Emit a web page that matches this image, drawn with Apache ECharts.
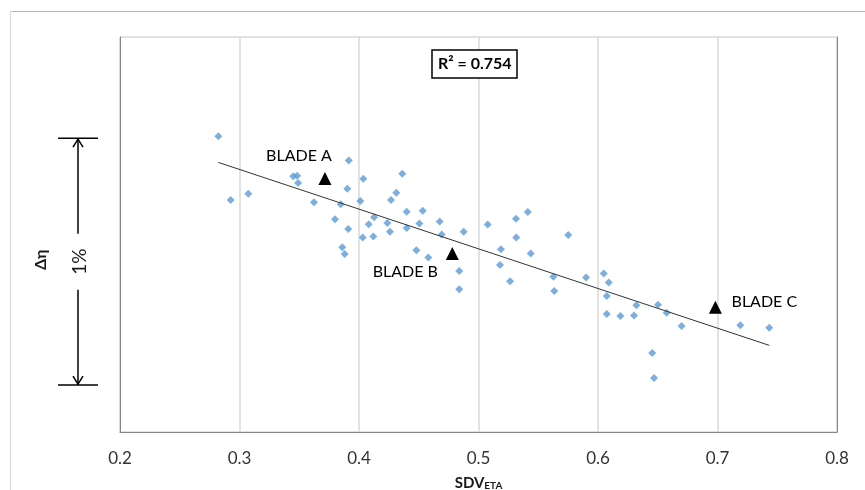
<!DOCTYPE html>
<html><head><meta charset="utf-8">
<script src="https://cdn.jsdelivr.net/npm/echarts@6/dist/echarts.min.js"></script>
<style>html,body{margin:0;padding:0;background:#fff}#c{width:865px;height:490px}</style>
</head><body><div id="c"></div>
<script>
// ---- data ----
const sdv = [0.2823,0.2926,0.3074,0.3450,0.3482,0.3490,0.3623,0.3847,0.3799,0.3910,
  0.3860,0.3880,0.3914,0.3902,0.4011,0.4036,0.4362,0.4312,0.4268,0.4399,
  0.4533,0.4126,0.4081,0.4237,0.4505,0.4675,0.4399,0.4031,0.4120,0.4259,
  0.4692,0.4876,0.4480,0.4580,0.4839,0.4839,0.5077,0.5314,0.5412,0.5316,
  0.5188,0.5437,0.5180,0.5264,0.5751,0.5626,0.5900,0.5634,0.6048,0.6090,
  0.6073,0.6321,0.6502,0.6575,0.6073,0.6187,0.6301,0.6700,0.7191,0.7433,
  0.6454,0.6469];
const deltaEta = [1.198,0.940,0.965,1.036,1.038,1.009,0.931,0.923,0.862,0.822,
  0.748,0.721,1.100,0.985,0.936,1.026,1.046,0.969,0.940,0.892,
  0.896,0.870,0.842,0.847,0.845,0.853,0.826,0.788,0.792,0.811,
  0.800,0.811,0.736,0.707,0.652,0.578,0.841,0.864,0.891,0.788,
  0.740,0.723,0.676,0.611,0.798,0.629,0.626,0.571,0.642,0.606,
  0.551,0.513,0.515,0.483,0.478,0.470,0.472,0.429,0.432,0.422,
  0.320,0.219];
const bladeNames = ['BLADE A','BLADE B','BLADE C'];
const bladeSdv = [0.3715,0.4781,0.6982];
const bladeEta = [1.027,0.723,0.505];
const trendSdv = [0.2823,0.7433];
const trendEta = [1.092,0.351];
const xTickValues = [0.2,0.3,0.4,0.5,0.6,0.7,0.8];
const rSquaredText = 'R² = 0.754';
const yAxisTitle = 'Δη';
const bracketRange = [0.19, 1.19]; // spans 1% of Δη
const bracketText = '1%';

// ---- chart ----
const FONT = 'Lato, "Noto Sans", sans-serif';
const bladeLabelOffsets = [[-26,-23],[-47,18],[49,-5]];
const chart = echarts.init(document.getElementById('c'), null, {renderer:'canvas'});
const option = {
  animation:false,
  backgroundColor:'#fff',
  textStyle:{fontFamily:FONT},
  title:{
    text:rSquaredText, left:432, top:50, padding:[6,6],
    borderColor:'#000', borderWidth:1.5, backgroundColor:'#fff',
    textStyle:{fontFamily:FONT, fontSize:16, fontWeight:'bold', color:'#000'}
  },
  grid:{left:120, right:28, top:37, bottom:58, show:true, borderColor:'#c4c4c4', borderWidth:1,
    containLabel:false, outerBoundsMode:'none'},
  xAxis:{
    type:'value', min:xTickValues[0], max:xTickValues[xTickValues.length-1], interval:0.1,
    axisLine:{show:true, onZero:false, lineStyle:{color:'#878787', width:1}},
    axisTick:{show:false},
    splitLine:{show:true, lineStyle:{color:'#d9d9d9', width:1.5}},
    axisLabel:{fontFamily:FONT, fontSize:17, color:'#333', margin:18,
      formatter:v=>v.toFixed(1)},
    name:'{a|SDV}{b|ETA}', nameLocation:'middle', nameGap:44,
    nameTextStyle:{rich:{
      a:{fontFamily:FONT, fontSize:15, fontWeight:'bold', color:'#1a1a1a'},
      b:{fontFamily:FONT, fontSize:10, fontWeight:'bold', color:'#1a1a1a', verticalAlign:'bottom', padding:[4,0,0,0]}
    }}
  },
  yAxis:[{
    type:'value', min:0, max:1.6,
    axisLine:{show:true, lineStyle:{color:'#878787', width:1}},
    axisTick:{show:false}, axisLabel:{show:false}, splitLine:{show:false}
  },{
    type:'value', min:0, max:1.6, position:'right',
    axisLine:{show:true, lineStyle:{color:'#878787', width:1}},
    axisTick:{show:false}, axisLabel:{show:false}, splitLine:{show:false}
  }],
  series:[{
    type:'scatter', name:'data', symbol:'diamond', symbolSize:8,
    itemStyle:{color:'#5B9BD5'},
    data:sdv.map((x,i)=>[x,deltaEta[i]]), z:2
  },{
    type:'line', name:'trend', data:trendSdv.map((x,i)=>[x,trendEta[i]]),
    showSymbol:false, symbol:'none', lineStyle:{color:'#333', width:1}, z:3, silent:true
  },{
    type:'scatter', name:'blades', symbol:'triangle', symbolSize:13,
    itemStyle:{color:'#000', opacity:1}, z:4,
    data:bladeNames.map((n,i)=>({name:n, value:[bladeSdv[i],bladeEta[i]],
      label:{show:true, position:'inside', offset:bladeLabelOffsets[i], formatter:'{b}',
        fontFamily:FONT, fontSize:16, color:'#000', textBorderWidth:0,
        align:'center', verticalAlign:'middle'}}))
  }]
};
chart.setOption(option);

// bracket, y-axis title and outer frame
const yTop = chart.convertToPixel({yAxisIndex:0}, bracketRange[1]);
const yBot = chart.convertToPixel({yAxisIndex:0}, bracketRange[0]);
const mid = (yTop+yBot)/2;
const bx = 78, gap = 28;
const ln = (x1,y1,x2,y2,c,w)=>({type:'line', shape:{x1,y1,x2,y2}, style:{stroke:c||'#000', lineWidth:w||1.5}, silent:true});
chart.setOption({graphic:[
  ln(10,11.5,865,11.5,'#b5b5b5',1.2),
  ln(10.5,11,10.5,490,'#dcdcdc',1.2),
  ln(58,yTop,98,yTop), ln(58,yBot,98,yBot),
  ln(bx,yTop,bx,mid-gap), ln(bx,mid+gap,bx,yBot),
  {type:'polyline', shape:{points:[[bx-5,yTop+9],[bx,yTop+1],[bx+5,yTop+9]]}, style:{stroke:'#000', fill:null, lineWidth:1.5}},
  {type:'polyline', shape:{points:[[bx-5,yBot-9],[bx,yBot-1],[bx+5,yBot-9]]}, style:{stroke:'#000', fill:null, lineWidth:1.5}},
  {type:'text', x:bx+2, y:mid, rotation:Math.PI/2,
    style:{text:bracketText, fontFamily:FONT, fontSize:19, fill:'#1a1a1a', align:'center', verticalAlign:'middle'}},
  {type:'text', x:41, y:mid-2, rotation:Math.PI/2,
    style:{text:yAxisTitle, fontFamily:FONT, fontSize:16, fontWeight:'bold', fill:'#1a1a1a', align:'center', verticalAlign:'middle'}}
]});
</script></body></html>
